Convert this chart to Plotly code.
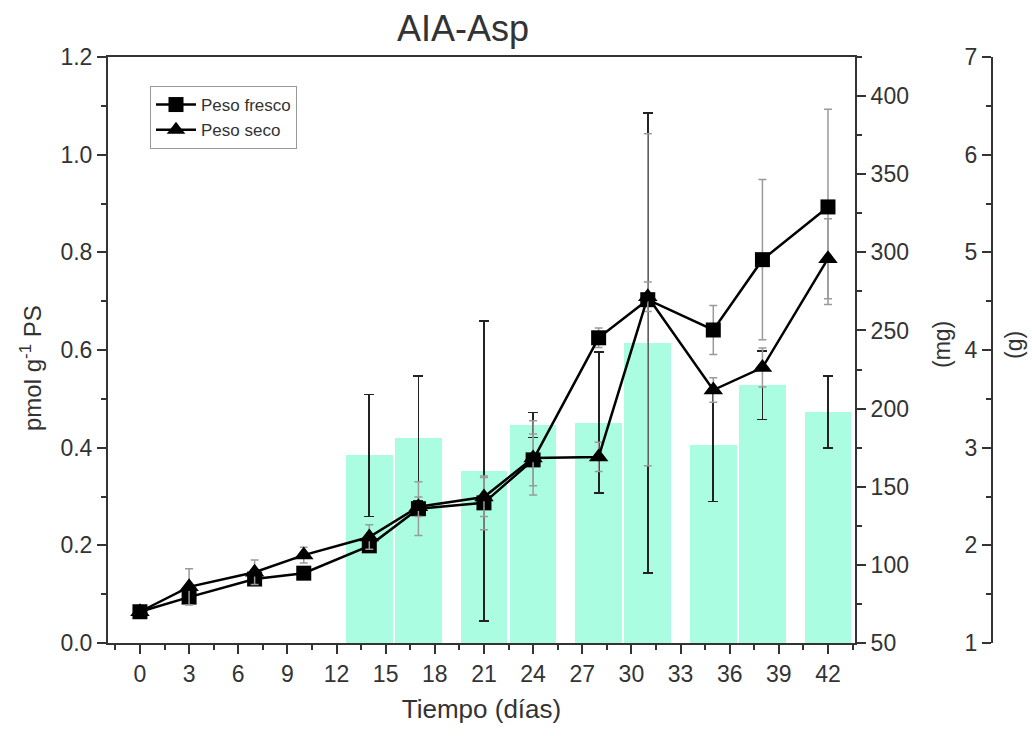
import plotly.graph_objects as go

# ---------------- data ----------------
days = [0, 3, 7, 10, 14, 17, 21, 24, 28, 31, 35, 38, 42]
fresco = [0.064, 0.094, 0.131, 0.143, 0.199, 0.275, 0.287, 0.375, 0.625, 0.703, 0.641, 0.785, 0.893]
fresco_err = [0.005, 0.01, 0.01, 0.01, 0.01, 0.055, 0.055, 0.053, 0.02, 0.34, 0.05, 0.164, 0.2]
seco = [0.064, 0.115, 0.145, 0.18, 0.217, 0.279, 0.299, 0.379, 0.381, 0.709, 0.518, 0.564, 0.787]
seco_err = [0.005, 0.037, 0.025, 0.016, 0.025, 0.02, 0.04, 0.076, 0.03, 0.03, 0.025, 0.04, 0.082]

bar_days = [14, 17, 21, 24, 28, 31, 35, 38, 42]
bar_mg = [170, 181, 160, 189.5, 191, 242, 176.5, 215, 198]
bar_mg_err = [39, 40, 96, 8, 45, 147, 36, 22, 23]

x_ticks = list(range(0, 43, 3))

FONT = "Liberation Sans, Arial, sans-serif"
TXT = "#333333"
AX = "#333333"

fig = go.Figure()

fig.add_trace(go.Bar(
    x=bar_days, y=bar_mg, width=2.85,
    marker=dict(color="#abfde2", line=dict(width=0)),
    error_y=dict(type="data", array=bar_mg_err, color="#222222", thickness=1.8, width=5),
    yaxis="y", showlegend=False, hoverinfo="skip",
))

fig.add_trace(go.Scatter(
    x=days, y=fresco, name="Peso fresco", mode="lines+markers",
    line=dict(color="black", width=2.5),
    marker=dict(symbol="square", size=15, color="black"),
    error_y=dict(type="data", array=fresco_err, color="#9a9a9a", thickness=1.5, width=4),
    yaxis="y2",
))
fig.add_trace(go.Scatter(
    x=days, y=seco, name="Peso seco", mode="lines+markers",
    line=dict(color="black", width=2.5),
    marker=dict(symbol="triangle-up", size=17, color="black"),
    error_y=dict(type="data", array=seco_err, color="#9a9a9a", thickness=1.5, width=4),
    yaxis="y2",
))
# invisible trace so that the third (g) axis is created
fig.add_trace(go.Scatter(
    x=[0], y=[1], mode="markers", marker=dict(opacity=0, size=1),
    yaxis="y3", showlegend=False, hoverinfo="skip",
))

tickfont = dict(family=FONT, size=23, color=TXT)

fig.update_layout(
    width=1032, height=736,
    margin=dict(l=108, r=30, t=57, b=93),
    paper_bgcolor="white", plot_bgcolor="white",
    font=dict(family=FONT, color=TXT),
    title=dict(text="AIA-Asp", x=463 / 1032, xref="container", xanchor="center",
               y=1 - 28 / 736, yref="container", yanchor="middle",
               font=dict(family=FONT, size=36, color=TXT)),
    showlegend=True,
    legend=dict(x=(150 - 108) / 894, y=(643 - 86) / 586, xanchor="left", yanchor="top",
                bgcolor="white", bordercolor="#999999", borderwidth=1,
                font=dict(family=FONT, size=17, color=TXT), tracegroupgap=0,
                itemwidth=40),
    bargap=0,
    xaxis=dict(
        domain=[0, 747 / 894], range=[-1.95, 43.65],
        tickmode="array", tickvals=x_ticks, ticktext=[str(v) for v in x_ticks],
        ticks="outside", ticklen=9, tickwidth=2, tickcolor=AX,
        minor=dict(dtick=1.5, tick0=-1.5, ticks="outside", ticklen=5, tickwidth=2, tickcolor=AX),
        showline=True, linecolor=AX, linewidth=2, mirror=True,
        showgrid=False, zeroline=False, tickfont=tickfont,
        title=dict(text="Tiempo (días)", font=dict(family=FONT, size=26, color=TXT), standoff=14),
    ),
    yaxis=dict(
        range=[50, 425], side="right", anchor="x",
        tickmode="linear", tick0=50, dtick=50,
        ticks="outside", ticklen=9, tickwidth=2, tickcolor=AX,
        minor=dict(dtick=25, tick0=50, ticks="outside", ticklen=5, tickwidth=2, tickcolor=AX),
        showline=True, linecolor=AX, linewidth=2,
        showgrid=False, zeroline=False, tickfont=tickfont,
    ),
    yaxis2=dict(
        range=[0, 1.2], side="left", overlaying="y", anchor="x",
        tickmode="linear", tick0=0, dtick=0.2, tickformat=".1f",
        ticks="outside", ticklen=9, tickwidth=2, tickcolor=AX,
        minor=dict(dtick=0.1, ticks="outside", ticklen=5, tickwidth=2, tickcolor=AX),
        showline=True, linecolor=AX, linewidth=2,
        showgrid=False, zeroline=False, tickfont=tickfont,
    ),
    yaxis3=dict(
        range=[1, 7], side="left", overlaying="y", anchor="free",
        position=(992 - 108) / 894,
        tickmode="linear", tick0=1, dtick=1,
        ticks="outside", ticklen=9, tickwidth=2, tickcolor=AX,
        minor=dict(dtick=0.5, ticks="outside", ticklen=5, tickwidth=2, tickcolor=AX),
        showline=True, linecolor=AX, linewidth=2,
        showgrid=False, zeroline=False, tickfont=tickfont,
    ),
    annotations=[
        dict(text="pmol g<sup>-1</sup> PS", x=(31 - 108) / 894, y=(643 - 368) / 586,
             xref="paper", yref="paper", textangle=-90, showarrow=False,
             font=dict(family=FONT, size=24, color=TXT), xanchor="center", yanchor="middle"),
        dict(text="(mg)", x=(942 - 108) / 894, y=(643 - 345) / 586, xref="paper", yref="paper",
             textangle=-90, showarrow=False, font=dict(family=FONT, size=23, color=TXT),
             xanchor="center", yanchor="middle"),
        dict(text="(g)", x=(1014 - 108) / 894, y=(643 - 345) / 586, xref="paper", yref="paper",
             textangle=-90, showarrow=False, font=dict(family=FONT, size=23, color=TXT),
             xanchor="center", yanchor="middle"),
    ],
)

fig.write_html("out.html")
